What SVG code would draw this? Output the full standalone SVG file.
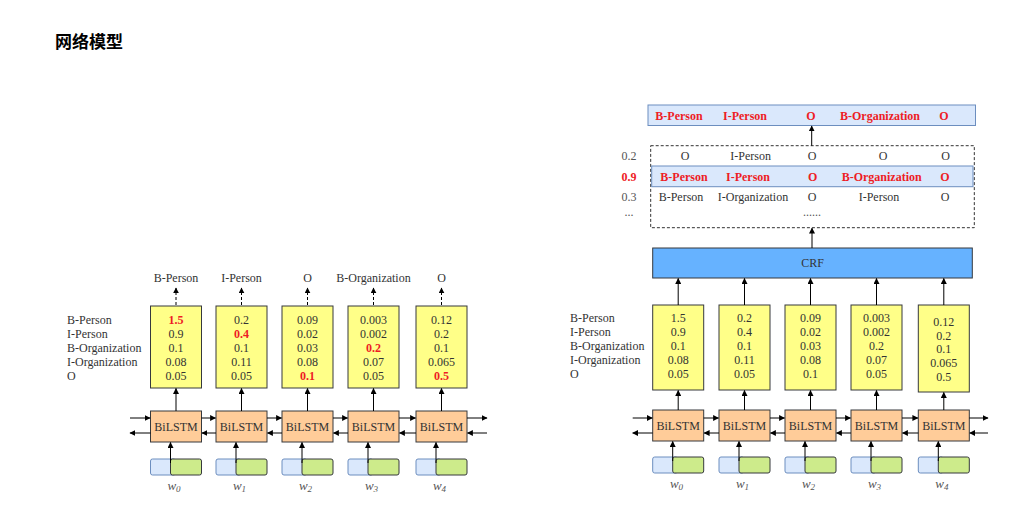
<svg xmlns="http://www.w3.org/2000/svg" width="1036" height="510" viewBox="0 0 1036 510" font-family="'Liberation Serif','DejaVu Serif',serif">
<style>
text{font-family:"Liberation Serif","DejaVu Serif","Times New Roman",serif;font-size:12px;fill:#333}
.c{text-anchor:middle}
.r{fill:#ee1c25;font-weight:bold}
.g{fill:#555}
text.title{font-family:"Noto Sans CJK SC","Noto Sans",sans-serif;font-size:17px;font-weight:bold;fill:#000}
.yel{fill:#ffff88;stroke:#36393d;stroke-width:1}
.lstm{fill:#ffcc99;stroke:#36393d;stroke-width:1}
.blu{fill:#dae8fc;stroke:#6c8ebf;stroke-width:1}
.grn{fill:#cdeb8b;stroke:#36393d;stroke-width:1}
.crf{fill:#66b2ff;stroke:#36393d;stroke-width:1}
.w{font-style:italic;fill:#555;font-size:13px}
.a{stroke:#000;stroke-width:1;fill:none;marker-end:url(#ah)}
.d{stroke:#000;stroke-width:1;fill:none;stroke-dasharray:3,2;marker-end:url(#ah)}
</style>
<defs>
<marker id="ah" viewBox="0 0 10 10" refX="9" refY="5" markerWidth="6" markerHeight="6" markerUnits="userSpaceOnUse" orient="auto">
<path d="M0,0 L10,5 L0,10 Z" fill="#000"/>
</marker>
</defs>
<rect width="1036" height="510" fill="#fff"/>
<text class="title" x="55" y="48">网络模型</text>

<!-- LEFT PANEL -->
<g id="left-row-labels">
<text x="67" y="324">B-Person</text>
<text x="67" y="338">I-Person</text>
<text x="67" y="352">B-Organization</text>
<text x="67" y="366">I-Organization</text>
<text x="67" y="380">O</text>
</g>
<g id="left-out-labels">
<text class="c" x="176" y="282">B-Person</text>
<text class="c" x="241.5" y="282">I-Person</text>
<text class="c" x="307.5" y="282">O</text>
<text class="c" x="373.5" y="282">B-Organization</text>
<text class="c" x="441.5" y="282">O</text>
</g>
<g id="left-score-0">
<rect class="yel" x="150.5" y="306" width="51" height="82"/>
<text class="c r" x="176" y="324">1.5</text><text class="c" x="176" y="338">0.9</text><text class="c" x="176" y="352">0.1</text><text class="c" x="176" y="366">0.08</text><text class="c" x="176" y="380">0.05</text>
</g>
<g id="left-score-1">
<rect class="yel" x="216" y="306" width="51" height="82"/>
<text class="c" x="241.5" y="324">0.2</text><text class="c r" x="241.5" y="338">0.4</text><text class="c" x="241.5" y="352">0.1</text><text class="c" x="241.5" y="366">0.11</text><text class="c" x="241.5" y="380">0.05</text>
</g>
<g id="left-score-2">
<rect class="yel" x="282" y="306" width="51" height="82"/>
<text class="c" x="307.5" y="324">0.09</text><text class="c" x="307.5" y="338">0.02</text><text class="c" x="307.5" y="352">0.03</text><text class="c" x="307.5" y="366">0.08</text><text class="c r" x="307.5" y="380">0.1</text>
</g>
<g id="left-score-3">
<rect class="yel" x="348" y="306" width="51" height="82"/>
<text class="c" x="373.5" y="324">0.003</text><text class="c" x="373.5" y="338">0.002</text><text class="c r" x="373.5" y="352">0.2</text><text class="c" x="373.5" y="366">0.07</text><text class="c" x="373.5" y="380">0.05</text>
</g>
<g id="left-score-4">
<rect class="yel" x="416" y="306" width="51" height="82"/>
<text class="c" x="441.5" y="324">0.12</text><text class="c" x="441.5" y="338">0.2</text><text class="c" x="441.5" y="352">0.1</text><text class="c" x="441.5" y="366">0.065</text><text class="c r" x="441.5" y="380">0.5</text>
</g>
<g id="left-lstm-0"><rect class="lstm" x="150.5" y="411" width="51" height="31"/><text class="c" x="176" y="430.5">BiLSTM</text></g>
<g id="left-lstm-1"><rect class="lstm" x="216" y="411" width="51" height="31"/><text class="c" x="241.5" y="430.5">BiLSTM</text></g>
<g id="left-lstm-2"><rect class="lstm" x="282" y="411" width="51" height="31"/><text class="c" x="307.5" y="430.5">BiLSTM</text></g>
<g id="left-lstm-3"><rect class="lstm" x="348" y="411" width="51" height="31"/><text class="c" x="373.5" y="430.5">BiLSTM</text></g>
<g id="left-lstm-4"><rect class="lstm" x="416" y="411" width="51" height="31"/><text class="c" x="441.5" y="430.5">BiLSTM</text></g>
<g id="left-input-0"><rect class="blu" x="150.5" y="459" width="25" height="16" rx="2"/><rect class="grn" x="170.5" y="459" width="31" height="16" rx="2"/><text class="w c" x="174" y="490">w<tspan font-size="9" dy="2">0</tspan></text></g>
<g id="left-input-1"><rect class="blu" x="216" y="459" width="25" height="16" rx="2"/><rect class="grn" x="236" y="459" width="31" height="16" rx="2"/><text class="w c" x="239.5" y="490">w<tspan font-size="9" dy="2">1</tspan></text></g>
<g id="left-input-2"><rect class="blu" x="282" y="459" width="25" height="16" rx="2"/><rect class="grn" x="302" y="459" width="31" height="16" rx="2"/><text class="w c" x="305.5" y="490">w<tspan font-size="9" dy="2">2</tspan></text></g>
<g id="left-input-3"><rect class="blu" x="348" y="459" width="25" height="16" rx="2"/><rect class="grn" x="368" y="459" width="31" height="16" rx="2"/><text class="w c" x="371.5" y="490">w<tspan font-size="9" dy="2">3</tspan></text></g>
<g id="left-input-4"><rect class="blu" x="416" y="459" width="25" height="16" rx="2"/><rect class="grn" x="436" y="459" width="31" height="16" rx="2"/><text class="w c" x="439.5" y="490">w<tspan font-size="9" dy="2">4</tspan></text></g>

<!-- RIGHT PANEL -->
<g id="right-best-path">
<rect class="blu" x="648" y="105" width="327.5" height="20.5"/>
<text class="c r" x="679" y="119.5">B-Person</text>
<text class="c r" x="745" y="119.5">I-Person</text>
<text class="c r" x="811" y="119.5">O</text>
<text class="c r" x="880" y="119.5">B-Organization</text>
<text class="c r" x="944" y="119.5">O</text>
</g>
<g id="right-candidates">
<rect x="650.7" y="145.7" width="323.6" height="82" fill="#fff" stroke="#333" stroke-width="1" stroke-dasharray="3,2"/>
<rect class="blu" x="651.7" y="166" width="321.3" height="20.7"/>
<text class="c g" x="629" y="160">0.2</text>
<text class="c" x="685" y="160">O</text>
<text class="c" x="750.7" y="160">I-Person</text>
<text class="c" x="812" y="160">O</text>
<text class="c" x="883" y="160">O</text>
<text class="c" x="945.7" y="160">O</text>
<text class="c r" x="629" y="180.7">0.9</text>
<text class="c r" x="684" y="180.7">B-Person</text>
<text class="c r" x="748" y="180.7">I-Person</text>
<text class="c r" x="812.7" y="180.7">O</text>
<text class="c r" x="881.7" y="180.7">B-Organization</text>
<text class="c r" x="945" y="180.7">O</text>
<text class="c g" x="629" y="200.7">0.3</text>
<text class="c" x="681" y="200.7">B-Person</text>
<text class="c" x="753" y="200.7">I-Organization</text>
<text class="c" x="812" y="200.7">O</text>
<text class="c" x="879" y="200.7">I-Person</text>
<text class="c" x="945" y="200.7">O</text>
<text class="c g" x="629" y="216" font-size="9">...</text>
<text class="c g" x="812" y="216" font-size="9">......</text>
</g>
<g id="right-crf"><rect class="crf" x="652.7" y="248" width="319.6" height="30"/><text class="c" x="812.5" y="267">CRF</text></g>
<g id="right-row-labels">
<text x="570" y="322">B-Person</text>
<text x="570" y="336">I-Person</text>
<text x="570" y="350">B-Organization</text>
<text x="570" y="364">I-Organization</text>
<text x="570" y="378">O</text>
</g>
<g id="right-score-0">
<rect class="yel" x="652.7" y="305" width="51" height="85"/>
<text class="c" x="678.2" y="322">1.5</text><text class="c" x="678.2" y="336">0.9</text><text class="c" x="678.2" y="350">0.1</text><text class="c" x="678.2" y="364">0.08</text><text class="c" x="678.2" y="378">0.05</text>
</g>
<g id="right-score-1">
<rect class="yel" x="719" y="305" width="51" height="85"/>
<text class="c" x="744.5" y="322">0.2</text><text class="c" x="744.5" y="336">0.4</text><text class="c" x="744.5" y="350">0.1</text><text class="c" x="744.5" y="364">0.11</text><text class="c" x="744.5" y="378">0.05</text>
</g>
<g id="right-score-2">
<rect class="yel" x="785" y="305" width="51" height="85"/>
<text class="c" x="810.5" y="322">0.09</text><text class="c" x="810.5" y="336">0.02</text><text class="c" x="810.5" y="350">0.03</text><text class="c" x="810.5" y="364">0.08</text><text class="c" x="810.5" y="378">0.1</text>
</g>
<g id="right-score-3">
<rect class="yel" x="851" y="305" width="51" height="85"/>
<text class="c" x="876.5" y="322">0.003</text><text class="c" x="876.5" y="336">0.002</text><text class="c" x="876.5" y="350">0.2</text><text class="c" x="876.5" y="364">0.07</text><text class="c" x="876.5" y="378">0.05</text>
</g>
<g id="right-score-4">
<rect class="yel" x="918.3" y="305" width="51" height="87"/>
<text class="c" x="943.8" y="326">0.12</text><text class="c" x="943.8" y="340">0.2</text><text class="c" x="943.8" y="353">0.1</text><text class="c" x="943.8" y="367">0.065</text><text class="c" x="943.8" y="381">0.5</text>
</g>
<g id="right-lstm-0"><rect class="lstm" x="652.7" y="410" width="51" height="31"/><text class="c" x="678.2" y="429.5">BiLSTM</text></g>
<g id="right-lstm-1"><rect class="lstm" x="719" y="410" width="51" height="31"/><text class="c" x="744.5" y="429.5">BiLSTM</text></g>
<g id="right-lstm-2"><rect class="lstm" x="785" y="410" width="51" height="31"/><text class="c" x="810.5" y="429.5">BiLSTM</text></g>
<g id="right-lstm-3"><rect class="lstm" x="851" y="410" width="51" height="31"/><text class="c" x="876.5" y="429.5">BiLSTM</text></g>
<g id="right-lstm-4"><rect class="lstm" x="918.3" y="410" width="51" height="31"/><text class="c" x="943.8" y="429.5">BiLSTM</text></g>
<g id="right-input-0"><rect class="blu" x="652.7" y="457" width="25" height="16" rx="2"/><rect class="grn" x="672.7" y="457" width="31" height="16" rx="2"/><text class="w c" x="676.5" y="488">w<tspan font-size="9" dy="2">0</tspan></text></g>
<g id="right-input-1"><rect class="blu" x="719" y="457" width="25" height="16" rx="2"/><rect class="grn" x="739" y="457" width="31" height="16" rx="2"/><text class="w c" x="742.5" y="488">w<tspan font-size="9" dy="2">1</tspan></text></g>
<g id="right-input-2"><rect class="blu" x="785" y="457" width="25" height="16" rx="2"/><rect class="grn" x="805" y="457" width="31" height="16" rx="2"/><text class="w c" x="808.5" y="488">w<tspan font-size="9" dy="2">2</tspan></text></g>
<g id="right-input-3"><rect class="blu" x="851" y="457" width="25" height="16" rx="2"/><rect class="grn" x="871" y="457" width="31" height="16" rx="2"/><text class="w c" x="874.5" y="488">w<tspan font-size="9" dy="2">3</tspan></text></g>
<g id="right-input-4"><rect class="blu" x="918.3" y="457" width="25" height="16" rx="2"/><rect class="grn" x="938.3" y="457" width="31" height="16" rx="2"/><text class="w c" x="941.8" y="488">w<tspan font-size="9" dy="2">4</tspan></text></g>

<g id="connectors">
<path class="d" d="M176,305 V288"/>
<path class="d" d="M241.5,305 V288"/>
<path class="d" d="M307.5,305 V288"/>
<path class="d" d="M373.5,305 V288"/>
<path class="d" d="M441.5,305 V288"/>
<path class="a" d="M176,411 V388.5"/>
<path class="a" d="M241.5,411 V388.5"/>
<path class="a" d="M307.5,411 V388.5"/>
<path class="a" d="M373.5,411 V388.5"/>
<path class="a" d="M441.5,411 V388.5"/>
<path class="a" d="M170.5,463 V442.5"/>
<path class="a" d="M236,463 V442.5"/>
<path class="a" d="M302,463 V442.5"/>
<path class="a" d="M368,463 V442.5"/>
<path class="a" d="M436,463 V442.5"/>
<path class="a" d="M130,418 H150"/>
<path class="a" d="M201.5,418 H215.5"/>
<path class="a" d="M267,418 H281.5"/>
<path class="a" d="M333,418 H347.5"/>
<path class="a" d="M399,418 H415.5"/>
<path class="a" d="M467,418 H487"/>
<path class="a" d="M150.5,433 H130"/>
<path class="a" d="M216,433 H202"/>
<path class="a" d="M282,433 H267.5"/>
<path class="a" d="M348,433 H333.5"/>
<path class="a" d="M416,433 H399.5"/>
<path class="a" d="M487,433 H467.5"/>
<path class="a" d="M811.7,145.7 V126"/>
<path class="a" d="M812,248 V228.2"/>
<path class="a" d="M678.2,305 V278.5"/>
<path class="a" d="M744.5,305 V278.5"/>
<path class="a" d="M810.5,305 V278.5"/>
<path class="a" d="M876.5,305 V278.5"/>
<path class="a" d="M943.8,305 V278.5"/>
<path class="a" d="M678.2,410 V390.5"/>
<path class="a" d="M744.5,410 V390.5"/>
<path class="a" d="M810.5,410 V390.5"/>
<path class="a" d="M876.5,410 V390.5"/>
<path class="a" d="M943.8,410 V392.5"/>
<path class="a" d="M672.7,461 V441.5"/>
<path class="a" d="M739,461 V441.5"/>
<path class="a" d="M805,461 V441.5"/>
<path class="a" d="M871,461 V441.5"/>
<path class="a" d="M938.3,461 V441.5"/>
<path class="a" d="M632.7,418 H652.2"/>
<path class="a" d="M703.7,418 H718.5"/>
<path class="a" d="M770,418 H784.5"/>
<path class="a" d="M836,418 H850.5"/>
<path class="a" d="M902,418 H917.8"/>
<path class="a" d="M969.3,418 H988"/>
<path class="a" d="M652.7,433 H632.7"/>
<path class="a" d="M719,433 H704.2"/>
<path class="a" d="M785,433 H770.5"/>
<path class="a" d="M851,433 H836.5"/>
<path class="a" d="M918.3,433 H902.5"/>
<path class="a" d="M988,433 H969.8"/>
</g>
</svg>
